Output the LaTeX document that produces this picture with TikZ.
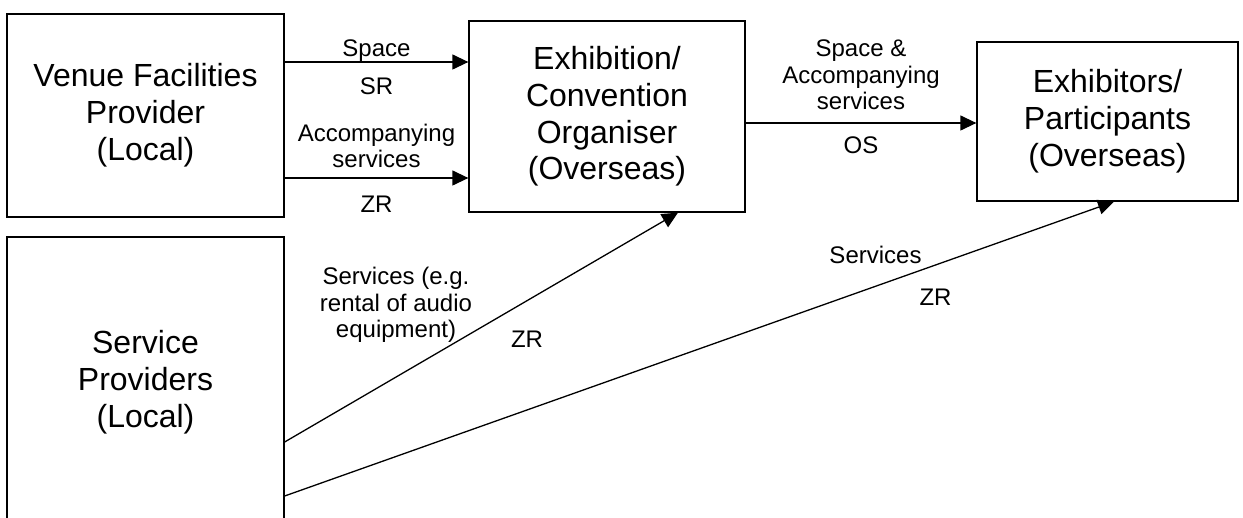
\documentclass[tikz,border=0pt]{standalone}
\usepackage{fontspec}
\setmainfont{Liberation Sans}
\usetikzlibrary{positioning,arrows.meta}
\tikzstyle{block} = [draw, fill=white, rectangle, line width=0.65pt, align=center, inner sep=0pt, font=\fontsize{16}{18.4}\selectfont]
\tikzstyle{lab} = [align=center, inner sep=0pt, font=\fontsize{12}{13.2}\selectfont]
\tikzstyle{arr} = [-{Triangle[length=8pt,width=7.5pt]}, line width=0.65pt]

\begin{document}
\begin{tikzpicture}[x=0.5pt, y=-0.5pt]
        \useasboundingbox (0,0) rectangle (1243,518);

        \node [block, minimum width=138.5pt, minimum height=101.5pt] (ven) at (145.5,115.5) {Venue Facilities\\Provider\\(Local)};
        \node [block, minimum width=138pt, minimum height=95.5pt] (exh) at (607,116.5) {Exhibition/\\Convention\\Organiser\\(Overseas)};
        \node [block, minimum width=130.5pt, minimum height=79.5pt] (exr) at (1107.5,121.5) {Exhibitors/\\Participants\\(Overseas)};
        \node [block, minimum width=138.5pt, minimum height=145.5pt] (svc) at (145.5,382.5) {Service\\Providers\\(Local)};

        \draw[arr] (ven.east |- 0,62) -- node[lab, above=0pt] {Space} node[lab, below=7.5pt] {SR} (exh.west |- 0,62);
        \draw[arr] (ven.east |- 0,178) -- node[lab, above=4.7pt] {Accompanying\\services} node[lab, below=8.6pt] {ZR} (exh.west |- 0,178);
        \draw[arr] (exh.east |- 0,123) -- node[lab, above=6.3pt] {Space \&\\Accompanying\\services} node[lab, below=6.7pt] {OS} (exr.west |- 0,123);

        \draw[arr] (svc.east |- 0,442) -- (exh.south -| 678,0);
        \draw[arr] (svc.east |- 0,496) -- (exr.south -| 1114,0);

        \node [lab] (se1) at (396,305) {Services (e.g.\\rental of audio\\equipment)};
        \node [lab] (zr1) at (527,339.5) {ZR};
        \node [lab] (se2) at (875.5,255) {Services};
        \node [lab] (zr2) at (935.5,297.5) {ZR};
    \end{tikzpicture}
\end{document}
